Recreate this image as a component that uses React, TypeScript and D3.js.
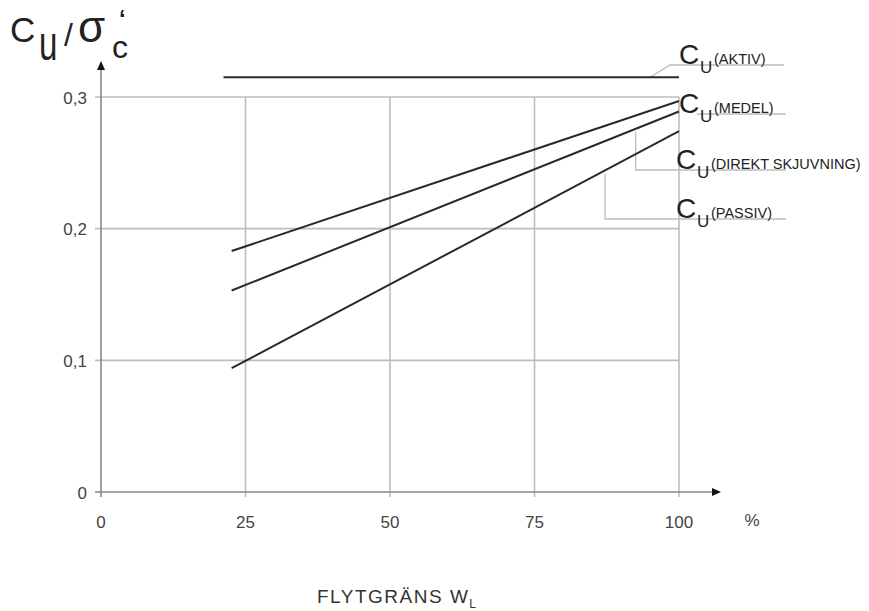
import React from "react";
import * as d3 from "d3";

const xTicks = [0, 25, 50, 75, 100];
const yTicks = [0, 0.1, 0.2, 0.3];
const yTickLabels = ["0", "0,1", "0,2", "0,3"];
const gridX = [25, 50, 75, 100];
const gridY = [0.1, 0.2, 0.3];

const seriesNames = ["AKTIV", "MEDEL", "DIREKT SKJUVNING", "PASSIV"];
const aktiv = [
  [21.2, 0.315],
  [100, 0.315],
];
const medel = [
  [22.6, 0.183],
  [100, 0.297],
];
const direkt = [
  [22.6, 0.153],
  [100, 0.289],
];
const passiv = [
  [22.6, 0.094],
  [100, 0.274],
];

const W = 869;
const H = 611;

export default function App() {
  const x = d3.scaleLinear().domain([0, 100]).range([101, 679]);
  const y = d3.scaleLinear().domain([0, 0.3]).range([492, 97]);
  const line = d3
    .line<number[]>()
    .x((d) => x(d[0]))
    .y((d) => y(d[1]));
  const series = [aktiv, medel, direkt, passiv];
  const grid = "#bdbdbd";
  const txt = "#444";
  const font = "Liberation Sans, Arial, sans-serif";

  const interp = (s: number[][], xv: number) =>
    s[0][1] + ((s[1][1] - s[0][1]) * (xv - s[0][0])) / (s[1][0] - s[0][0]);

  const underlineEnd = 786;
  const aktivY = 65;
  const medelY = 114;
  const direktY = 170;
  const passivY = 219;
  const direktLx = 92.5;
  const passivLx = 87.2;

  const label = (name: string, uy: number, lx: number) => (
    <g key={name} fontFamily={font} fill="#222">
      <text x={lx} y={uy - 1} fontSize={28}>
        C
      </text>
      <text x={lx + 21} y={uy + 8} fontSize={17}>
        U
      </text>
      <text x={lx + 35} y={uy - 1} fontSize={14.5}>
        ({name})
      </text>
    </g>
  );

  return (
    <svg
      width={W}
      height={H}
      style={{ position: "absolute", left: 0, top: 0, background: "#fff" }}
    >
      {/* grid */}
      {gridX.map((v) => (
        <line
          key={"gx" + v}
          x1={x(v)}
          x2={x(v)}
          y1={y(0.3)}
          y2={y(0) + 5}
          stroke={grid}
          strokeWidth={1.6}
        />
      ))}
      {gridY.map((v) => (
        <line
          key={"gy" + v}
          x1={x(0) - 6}
          x2={x(100)}
          y1={y(v)}
          y2={y(v)}
          stroke={grid}
          strokeWidth={1.6}
        />
      ))}
      {/* axes */}
      <line x1={x(0) - 6} x2={712} y1={y(0)} y2={y(0)} stroke="#888" strokeWidth={1.6} />
      <line x1={x(0)} x2={x(0)} y1={y(0) + 5} y2={70} stroke="#888" strokeWidth={1.6} />
      <path d={`M${x(0) - 4},70 L${x(0) + 4},70 L${x(0)},61 Z`} fill="#111" />
      <path d={`M712,${y(0) - 4} L712,${y(0) + 4} L721,${y(0)} Z`} fill="#111" />
      {/* tick labels */}
      {yTicks.map((v, i) => (
        <text
          key={"yt" + v}
          x={87}
          y={y(v) + 6.5}
          textAnchor="end"
          fontFamily={font}
          fontSize={17}
          fill={txt}
        >
          {yTickLabels[i]}
        </text>
      ))}
      {xTicks.map((v) => (
        <text
          key={"xt" + v}
          x={x(v)}
          y={528}
          textAnchor="middle"
          fontFamily={font}
          fontSize={17}
          fill={txt}
        >
          {v}
        </text>
      ))}
      <text x={752} y={526} textAnchor="middle" fontFamily={font} fontSize={17} fill={txt}>
        %
      </text>
      {/* leader lines */}
      <path
        d={`M${x(95)},${y(0.315)} L670,${aktivY} L${underlineEnd - 2},${aktivY}`}
        fill="none"
        stroke={grid}
        strokeWidth={1.3}
      />
      <line x1={697} x2={underlineEnd} y1={medelY} y2={medelY} stroke={grid} strokeWidth={1.3} />
      <path
        d={`M${x(direktLx)},${y(interp(direkt, direktLx)) + 3} L${x(direktLx)},${direktY} L${underlineEnd},${direktY}`}
        fill="none"
        stroke={grid}
        strokeWidth={1.3}
      />
      <path
        d={`M${x(passivLx)},${y(interp(passiv, passivLx)) + 3} L${x(passivLx)},${passivY} L${underlineEnd},${passivY}`}
        fill="none"
        stroke={grid}
        strokeWidth={1.3}
      />
      {/* series lines */}
      {series.map((s, i) => (
        <path
          key={seriesNames[i]}
          d={line(s) || ""}
          fill="none"
          stroke="#2a2a2a"
          strokeWidth={2}
        />
      ))}
      {/* labels */}
      {label(seriesNames[0], aktivY, 679)}
      {label(seriesNames[1], medelY, 679)}
      {label(seriesNames[2], direktY, 676)}
      {label(seriesNames[3], passivY, 676)}
      {/* y title */}
      <g fontFamily={font} fill="#222">
        <text x={10} y={42} fontSize={35}>
          C
        </text>
        <text x={0} y={0} fontSize={36} transform="translate(39,60) scale(0.92,1.35)">
          u
        </text>
        <text x={64} y={46} fontSize={32}>
          /
        </text>
        <text x={78} y={42} fontSize={44}>
          σ
        </text>
        <text x={119} y={27} fontSize={24} fontWeight="bold">
          ‘
        </text>
        <text x={112} y={58} fontSize={32}>
          c
        </text>
      </g>
      {/* x title */}
      <text x={317} y={603} fontFamily={font} fontSize={19} fill="#333" letterSpacing={1.5}>
        FLYTGRÄNS W
        <tspan fontSize={12} dy={5} letterSpacing={0}>
          L
        </tspan>
      </text>
    </svg>
  );
}
